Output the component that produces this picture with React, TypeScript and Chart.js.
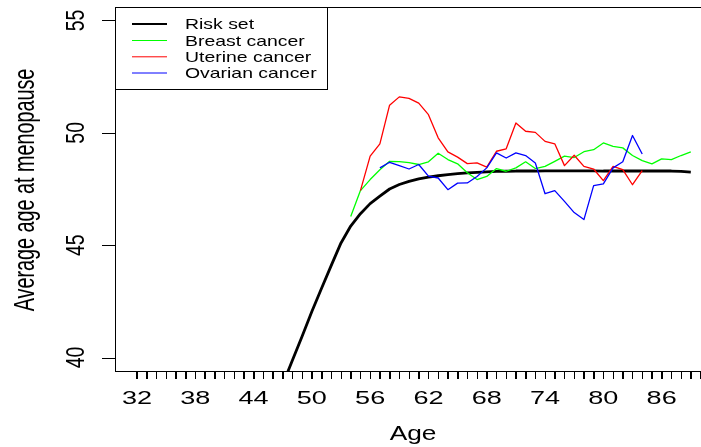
import React, { useEffect, useRef } from "react";
import { Chart, registerables } from "chart.js";

Chart.register(...registerables);

// Age (years) and mean age at menopause for each group
const riskAges = [46, 47, 48, 49, 50, 51, 52, 53, 54, 55, 56, 57, 58, 59, 60, 61, 62, 63, 64, 65, 66, 67, 68, 69, 70, 71, 72, 73, 74, 75, 76, 77, 78, 79, 80, 81, 82, 83, 84, 85, 86, 87, 88, 89];
const riskValues = [37.7, 38.8, 39.88, 40.95, 42.05, 43.08, 44.1, 45.1, 45.85, 46.4, 46.85, 47.18, 47.5, 47.7, 47.84, 47.95, 48.03, 48.09, 48.14, 48.18, 48.22, 48.24, 48.26, 48.28, 48.29, 48.3, 48.3, 48.3, 48.31, 48.31, 48.31, 48.31, 48.31, 48.31, 48.3, 48.3, 48.3, 48.3, 48.3, 48.3, 48.3, 48.3, 48.28, 48.25];

const breastAges = [54, 55, 56, 57, 58, 59, 60, 61, 62, 63, 64, 65, 66, 67, 68, 69, 70, 71, 72, 73, 74, 75, 76, 77, 78, 79, 80, 81, 82, 83, 84, 85, 86, 87, 88, 89];
const breastValues = [46.28, 47.43, 47.92, 48.36, 48.73, 48.72, 48.67, 48.59, 48.71, 49.09, 48.81, 48.62, 48.22, 47.92, 48.06, 48.41, 48.29, 48.44, 48.71, 48.41, 48.51, 48.73, 48.96, 48.9, 49.16, 49.25, 49.55, 49.4, 49.33, 48.99, 48.76, 48.62, 48.84, 48.81, 48.99, 49.15];

const uterineAges = [55, 56, 57, 58, 59, 60, 61, 62, 63, 64, 65, 66, 67, 68, 69, 70, 71, 72, 73, 74, 75, 76, 77, 78, 79, 80, 81, 82, 83, 84];
const uterineValues = [47.43, 48.96, 49.51, 51.23, 51.6, 51.53, 51.32, 50.81, 49.78, 49.15, 48.92, 48.63, 48.66, 48.47, 49.18, 49.29, 50.44, 50.07, 50.02, 49.62, 49.51, 48.54, 49.0, 48.51, 48.39, 47.87, 48.51, 48.36, 47.69, 48.32];

const ovarianAges = [57, 58, 59, 60, 61, 62, 63, 64, 65, 66, 67, 68, 69, 70, 71, 72, 73, 74, 75, 76, 77, 78, 79, 80, 81, 82, 83, 84];
const ovarianValues = [48.44, 48.69, 48.54, 48.39, 48.59, 48.07, 47.99, 47.47, 47.76, 47.77, 48.06, 48.44, 49.11, 48.88, 49.11, 48.99, 48.66, 47.29, 47.43, 46.95, 46.45, 46.14, 47.65, 47.73, 48.44, 48.71, 49.88, 49.06];

const seriesNames = ["Risk set", "Breast cancer", "Uterine cancer", "Ovarian cancer"];
const seriesColors = ["#000000", "#00ff00", "#ff0000", "#0000ff"];

// Axis ticks
const xMinorTicks = [32, 33, 34, 35, 36, 37, 38, 39, 40, 41, 42, 43, 44, 45, 46, 47, 48, 49, 50, 51, 52, 53, 54, 55, 56, 57, 58, 59, 60, 61, 62, 63, 64, 65, 66, 67, 68, 69, 70, 71, 72, 73, 74, 75, 76, 77, 78, 79, 80, 81, 82, 83, 84, 85, 86, 87, 88, 89, 90];
const xLabelTicks = [32, 38, 44, 50, 56, 62, 68, 74, 80, 86];
const yTicks = [40, 45, 50, 55];

const FONT = '"Liberation Sans", Arial, Helvetica, sans-serif';

function toPoints(xs: number[], ys: number[]) {
  return xs.map((x, i) => ({ x, y: ys[i] }));
}

function drawText(
  ctx: CanvasRenderingContext2D,
  s: string,
  x: number,
  y: number,
  size: number,
  sx: number,
  align: CanvasTextAlign,
  rot = 0
) {
  ctx.save();
  ctx.translate(x, y);
  ctx.scale(sx, 1);
  if (rot) ctx.rotate(rot);
  ctx.font = `${size}px ${FONT}`;
  ctx.textAlign = align;
  ctx.textBaseline = "alphabetic";
  ctx.fillStyle = "#000";
  ctx.fillText(s, 0, 0);
  ctx.restore();
}

// Base-graphics style frame, axis labels and legend
const frame = {
  id: "frame",
  beforeDraw(chart: any) {
    const ctx = chart.ctx as CanvasRenderingContext2D;
    ctx.save();
    ctx.fillStyle = "#fff";
    ctx.fillRect(0, 0, chart.width, chart.height);
    ctx.restore();
  },
  afterDraw(chart: any) {
    const ctx = chart.ctx as CanvasRenderingContext2D;
    const { left, top, right, bottom } = chart.chartArea;
    const xs = chart.scales.x;
    const ys = chart.scales.y;
    ctx.save();

    const L = Math.round(left);
    const T = Math.round(top);
    const B = Math.round(bottom);

    ctx.fillStyle = "#000";
    // box (left, top, bottom)
    ctx.fillRect(L, T, Math.ceil(right) + 2 - L, 1);
    ctx.fillRect(L, T, 1, B - T + 1);
    ctx.fillRect(L, B, Math.ceil(right) + 2 - L, 1);

    // x ticks, one per year
    for (let i = 0; i < xMinorTicks.length; i++) {
      const px = Math.round(xs.getPixelForValue(xMinorTicks[i]));
      ctx.fillRect(px, B + 1, 1, 7);
    }

    for (const v of xLabelTicks) {
      drawText(ctx, String(v), xs.getPixelForValue(v), 404, 17.7, 1.53, "center");
    }

    // y ticks
    for (const v of yTicks) {
      const py = Math.round(ys.getPixelForValue(v));
      ctx.fillRect(L - 13, py, 13, 1);
    }
    for (const v of yTicks) {
      drawText(ctx, String(v), 84, ys.getPixelForValue(v), 19.5, 1.31, "center", -Math.PI / 2);
    }

    // axis titles
    drawText(ctx, "Age", 413, 440, 21, 1.25, "center");
    drawText(ctx, "Average age at menopause", 33.5, 190, 19.8, 1.45, "center", -Math.PI / 2);

    // legend
    ctx.fillRect(L, T, 327 - L, 1);
    ctx.fillRect(L, 89, 327 - L + 1, 1);
    ctx.fillRect(327, T, 1, 89 - T);
    const rowY = [24, 40.5, 56.8, 73];
    const baseY = [29.3, 45.7, 62.1, 78.3];
    seriesNames.forEach((name, i) => {
      ctx.beginPath();
      ctx.strokeStyle = seriesColors[i];
      ctx.lineWidth = i === 0 ? 2 : 1;
      ctx.moveTo(132, rowY[i]);
      ctx.lineTo(167, rowY[i]);
      ctx.stroke();
      drawText(ctx, name, 185, baseY[i], 14.6, 1.33, "left");
    });
    ctx.restore();
  },
};

export default function App() {
  const ref = useRef<HTMLCanvasElement | null>(null);

  useEffect(() => {
    if (!ref.current) return;
    const chart = new Chart(ref.current, {
      type: "line",
      data: {
        datasets: [
          {
            label: seriesNames[0],
            data: toPoints(riskAges, riskValues),
            borderColor: seriesColors[0],
            borderWidth: 2.8,
            order: 4,
          },
          {
            label: seriesNames[1],
            data: toPoints(breastAges, breastValues),
            borderColor: seriesColors[1],
            borderWidth: 1.3,
            order: 3,
          },
          {
            label: seriesNames[2],
            data: toPoints(uterineAges, uterineValues),
            borderColor: seriesColors[2],
            borderWidth: 1.3,
            order: 2,
          },
          {
            label: seriesNames[3],
            data: toPoints(ovarianAges, ovarianValues),
            borderColor: seriesColors[3],
            borderWidth: 1.3,
            order: 1,
          },
        ].map((d) => ({
          ...d,
          pointRadius: 0,
          pointHoverRadius: 0,
          tension: 0,
          fill: false,
          clip: 0,
          borderJoinStyle: "round" as const,
        })),
      },
      options: {
        animation: false,
        responsive: false,
        maintainAspectRatio: false,
        devicePixelRatio: 1,
        events: [],
        layout: { padding: { left: 115, top: 7, right: 0, bottom: 68 } },
        plugins: { legend: { display: false }, tooltip: { enabled: false } },
        scales: {
          x: {
            type: "linear",
            min: 29.74,
            max: 90.05,
            display: true,
            afterBuildTicks: (scale: any) => {
              scale.ticks = xMinorTicks.map((v) => ({ value: v }));
            },
            afterFit: (scale: any) => {
              scale.height = 8;
            },
            ticks: { display: false },
            grid: {
              display: true,
              drawOnChartArea: false,
              drawTicks: true,
              tickLength: 8,
              color: "#000",
              lineWidth: 1,
            },
            border: { display: false },
            title: { display: false },
          },
          y: { type: "linear", min: 39.4, max: 55.6, display: false },
        },
      },
      plugins: [frame],
    });
    return () => chart.destroy();
  }, []);

  return (
    <div style={{ position: "fixed", left: 0, top: 0, width: 701, height: 447, overflow: "hidden", background: "#fff" }}>
      <canvas ref={ref} width={701} height={447} style={{ display: "block" }} />
    </div>
  );
}
